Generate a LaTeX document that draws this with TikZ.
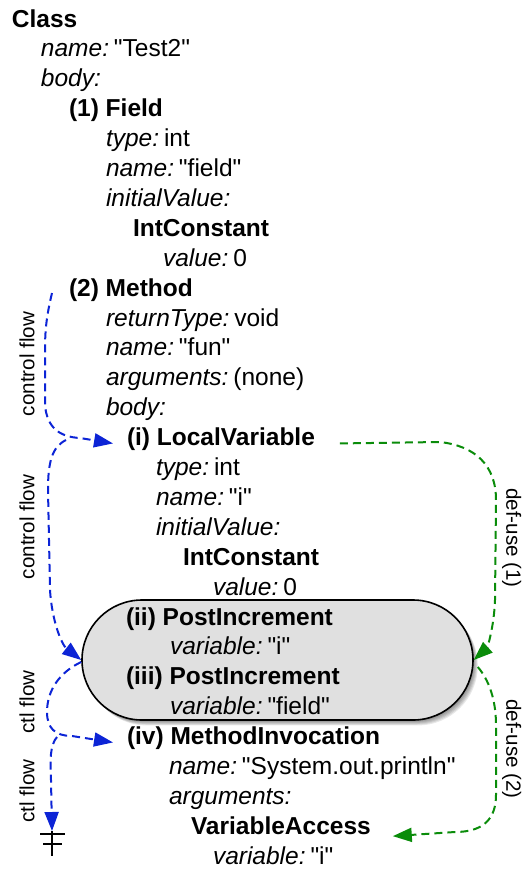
\documentclass[tikz,border=0pt]{standalone}
\usepackage{fontspec}
% a family of its own keeps the straight double quotes as typed
\newfontfamily\treefont{Liberation Sans}
\usetikzlibrary{arrows.meta}
\definecolor{flowblue}{RGB}{12,36,214}
\definecolor{usegreen}{RGB}{10,140,10}
\definecolor{boxgray}{RGB}{224,224,224}
\newcommand\fieldkv[2]{\textit{#1}\hspace{0.2em}#2}

\begin{document}
\begin{tikzpicture}[x=1pt,y=-1pt,
  txt/.style={anchor=base west, inner sep=0pt, outer sep=0pt,
              font=\treefont\fontsize{24.5}{29.9}\selectfont},
  hdr/.style={txt, font=\treefont\fontsize{24.5}{29.9}\selectfont\bfseries},
  lbl/.style={inner sep=0pt, font=\treefont\fontsize{20.6}{24}\selectfont},
  flowtip/.style={-{Triangle[length=19pt,width=14pt]}},
  cflow/.style={draw=flowblue, flowtip, line width=2pt, dash pattern=on 8pt off 5pt},
  duse/.style={draw=usegreen, flowtip, line width=2pt, dash pattern=on 8pt off 5pt},
]
\useasboundingbox (0,0) rectangle (522,871);

% soft shadow under the grouped statements
\foreach \s in {1,...,6}
  \fill[black, opacity=0.09, rounded corners=60pt]
    (82+\s*0.8, 600+\s*0.9) rectangle (473+\s*0.8, 720+\s*0.9);

% grouped statements (ii) and (iii)
\node[draw=black, line width=1.6pt, fill=boxgray, rounded corners=60pt,
      minimum width=391pt, minimum height=120pt, inner sep=0pt]
  (box) at (277.5,660) {};

% the syntax tree, one line per entry
\node[hdr] (cls)   at (12, 27.0)  {Class};
\node[txt] (cname) at (41, 56.9)  {\fieldkv{name:}{"Test2"}};
\node[txt] (cbody) at (41, 86.8)  {\textit{body:}};
\node[hdr] (fld)   at (69, 116.7) {(1) Field};
\node[txt] (ftype) at (106,146.6) {\fieldkv{type:}{int}};
\node[txt] (fname) at (106,176.5) {\fieldkv{name:}{"field"}};
\node[txt] (finit) at (106,206.4) {\textit{initialValue:}};
\node[hdr] (fic)   at (133,236.3) {IntConstant};
\node[txt] (ficv)  at (163,266.2) {\fieldkv{value:}{0}};
\node[hdr] (meth)  at (69, 296.1) {(2) Method};
\node[txt] (mret)  at (106,326.0) {\fieldkv{returnType:}{void}};
\node[txt] (mname) at (106,355.9) {\fieldkv{name:}{"fun"}};
\node[txt] (margs) at (106,385.8) {\fieldkv{arguments:}{(none)}};
\node[txt] (mbody) at (106,415.7) {\textit{body:}};
\node[hdr] (loc)   at (127,445.6) {(i) LocalVariable};
\node[txt] (ltype) at (156,475.5) {\fieldkv{type:}{int}};
\node[txt] (lname) at (156,505.4) {\fieldkv{name:}{"i"}};
\node[txt] (linit) at (156,535.3) {\textit{initialValue:}};
\node[hdr] (lic)   at (183,565.2) {IntConstant};
\node[txt] (licv)  at (213,595.1) {\fieldkv{value:}{0}};
\node[hdr] (incA)  at (126,625.0) {(ii) PostIncrement};
\node[txt] (incAv) at (170,654.9) {\fieldkv{variable:}{"i"}};
\node[hdr] (incB)  at (126,684.8) {(iii) PostIncrement};
\node[txt] (incBv) at (170,714.7) {\fieldkv{variable:}{"field"}};
\node[hdr] (inv)   at (127,744.6) {(iv) MethodInvocation};
\node[txt] (invn)  at (169,774.5) {\fieldkv{name:}{"System.out.println"}};
\node[txt] (inva)  at (169,804.4) {\textit{arguments:}};
\node[hdr] (va)    at (191,834.3) {VariableAccess};
\node[txt] (vav)   at (213,864.2) {\fieldkv{variable:}{"i"}};

% control flow edges
\coordinate (cfA) at (52,293);
\coordinate (cfB) at (66,440);
\coordinate (cfD) at (57,737);
\coordinate (gnd) at (52,831);

\draw[cflow] (cfA) .. controls (46,318) and (45,332) .. (45,352) -- (45,405)
  .. controls (47,428) and (60,437) .. (80,438) -- ([xshift=-14pt]loc.mid west);
\draw[cflow] (cfB) .. controls (52,447) and (48,462) .. (48,490) -- (50,590)
  .. controls (52,622) and (62,645) .. (box.west);
\draw[cflow] ([yshift=-2pt]box.west) .. controls (60,672) and (47,690) .. (47,712)
  .. controls (47,728) and (55,736) .. (72,736) -- ([xshift=-14pt]inv.mid west);
\draw[cflow] (cfD) .. controls (50,745) and (50,760) .. (51,780) -- (gnd);

% end of flow marker
\draw[line width=1.8pt] (gnd) -- (52,856);
\draw[line width=1.8pt] (40,834) -- (65,834);
\draw[line width=1.8pt] (43,844) -- (62,844);

% def-use edges
\draw[duse] ([xshift=25pt]loc.mid east) -- (440,442)
  .. controls (475,446) and (496,465) .. (496,500) -- (495,600)
  .. controls (494,628) and (487,648) .. (box.east);
\draw[duse] ([shift={(4pt,-7pt)}]box.east) .. controls (489,680) and (496,700) .. (496,725)
  -- (496,795) .. controls (496,820) and (482,832) .. (455,832)
  -- ([shift={(22pt,-4pt)}]va.mid east);

% edge labels
\node[lbl, rotate=90]  (l1) at (27,364) {control flow};
\node[lbl, rotate=90]  (l2) at (27,527) {control flow};
\node[lbl, rotate=90]  (l3) at (27,702) {ctl flow};
\node[lbl, rotate=90]  (l4) at (27,791) {ctl flow};
\node[lbl, rotate=-90, anchor=north] (l5) at (521.5,538) {def-use (1)};
\node[lbl, rotate=-90, anchor=north] (l6) at (521.5,749) {def-use (2)};
\end{tikzpicture}
\end{document}
